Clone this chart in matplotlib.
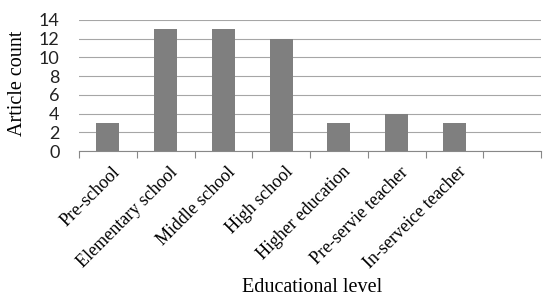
import matplotlib
matplotlib.use("Agg")
import matplotlib.pyplot as plt
import numpy as np

categories = ["Pre-school", "Elementary school", "Middle school", "High school",
              "Higher education", "Pre-servie teacher", "In-serveice teacher", ""]
values = [3, 13, 13, 12, 3, 4, 3, 0]
yticks = [0, 2, 4, 6, 8, 10, 12, 14]

fig = plt.figure(figsize=(5.5, 3.04), dpi=100)
ax = fig.add_axes([79/550, 1-151/304, (541-79)/550, (151-20)/304])

x = np.arange(len(categories))
ax.bar(x[:7], values[:7], width=0.4, color="#7f7f7f", zorder=3)
ax.set_xlim(-0.5, len(categories) - 0.5)
ax.set_ylim(0, 14)
ax.set_yticks(yticks)
ax.yaxis.grid(True, color="#a6a6a6", linewidth=0.8, zorder=0)
ax.tick_params(axis="y", length=0, labelsize=13, pad=14)
for lab in ax.get_yticklabels():
    lab.set_family("Lato")
    lab.set_color("#222222")

# category tick marks at boundaries
ax.set_xticks(np.arange(-0.5, len(categories)), minor=False)
ax.set_xticklabels([])
ax.tick_params(axis="x", which="major", length=5, color="#888888", direction="out")
ax.set_xticks(x + 0.06, minor=True)
ax.set_xticklabels(categories, minor=True, rotation=45, ha="right",
                   rotation_mode="anchor", fontsize=13, family="Liberation Serif")
ax.tick_params(axis="x", which="minor", length=0, pad=9)

for s in ["top", "right", "left"]:
    ax.spines[s].set_visible(False)
ax.spines["bottom"].set_color("#888888")

fig.text(18/550, 1-83/304, "Article count", rotation=90, ha="center", va="center",
         fontsize=14.5, family="Liberation Serif")
fig.text(312/550, 1-288/304, "Educational level", ha="center", va="center",
         fontsize=14.5, family="Liberation Serif")

fig.savefig("out.png", dpi=100)
